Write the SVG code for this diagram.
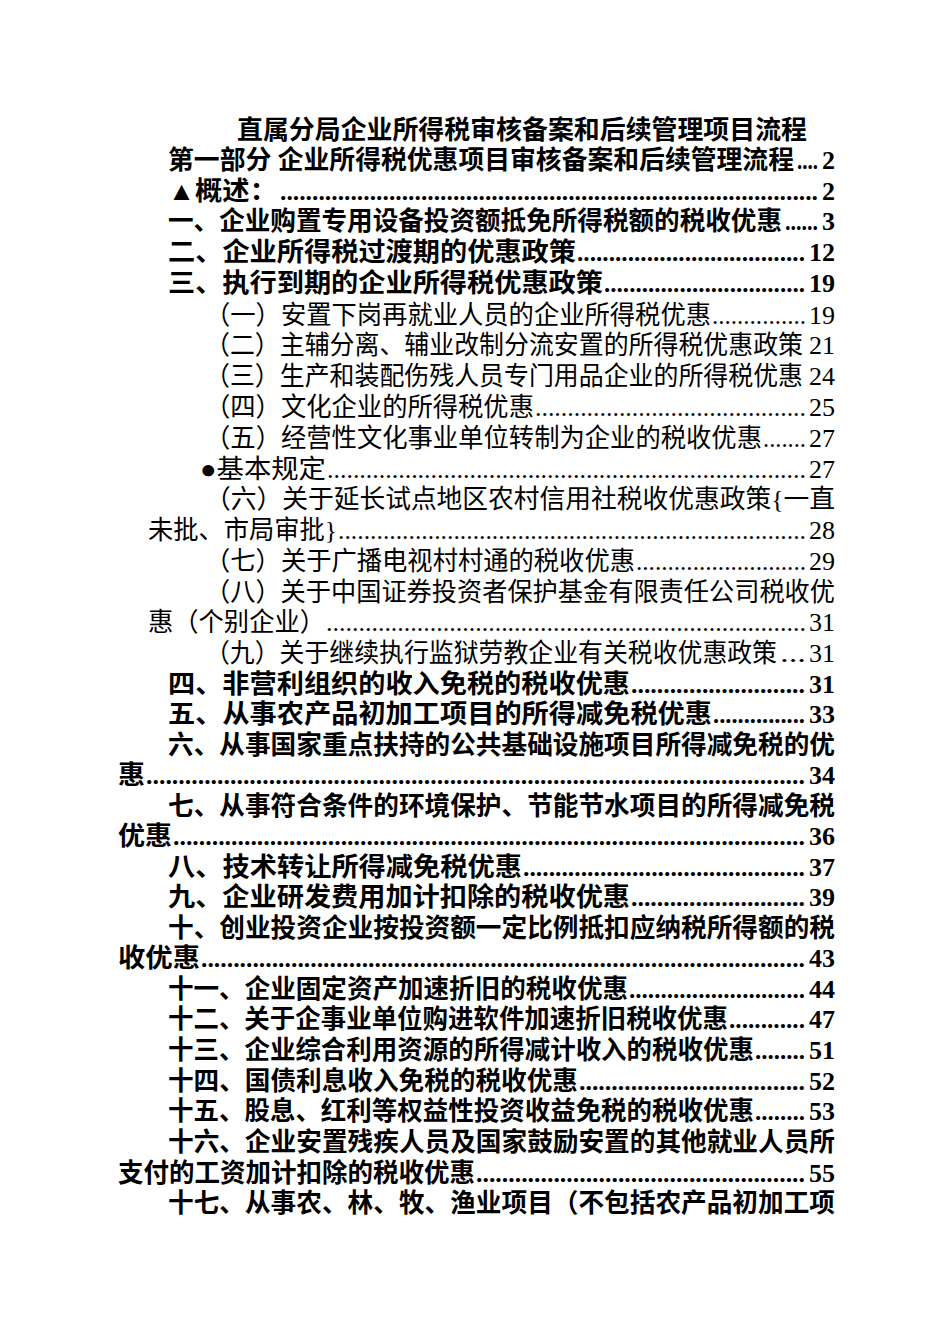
<svg xmlns="http://www.w3.org/2000/svg" width="950" height="1344" viewBox="0 0 950 1344">
<style>
text{font-family:"Liberation Serif","Noto Sans CJK SC",serif;font-size:26px;fill:#000}
.b{font-weight:bold}
.n{font-weight:normal}
.r{text-anchor:end}
</style>
<rect width="950" height="1344" fill="#fff"/>
<text class="b" x="237" y="139" textLength="570" lengthAdjust="spacingAndGlyphs">直属分局企业所得税审核备案和后续管理项目流程</text>
<g class="b">
<text x="168" y="169" textLength="626" lengthAdjust="spacingAndGlyphs">第一部分  企业所得税优惠项目审核备案和后续管理流程</text>
<text x="797" y="169" textLength="21" lengthAdjust="spacingAndGlyphs">....</text><text class="r" x="835" y="169">2</text>
<text x="168" y="200" textLength="109" lengthAdjust="spacingAndGlyphs">▲概述：</text>
<text x="280" y="200" textLength="538" lengthAdjust="spacingAndGlyphs">....................................................................................</text><text class="r" x="835" y="200">2</text>
<text x="168" y="230" textLength="614" lengthAdjust="spacingAndGlyphs">一、企业购置专用设备投资额抵免所得税额的税收优惠</text>
<text x="785" y="230" textLength="33" lengthAdjust="spacingAndGlyphs">......</text><text class="r" x="835" y="230">3</text>
<text x="168" y="261" textLength="408" lengthAdjust="spacingAndGlyphs">二、企业所得税过渡期的优惠政策</text>
<text x="577" y="261" textLength="228" lengthAdjust="spacingAndGlyphs">....................................</text><text class="r" x="835" y="261">12</text>
<text x="168" y="292" textLength="435" lengthAdjust="spacingAndGlyphs">三、执行到期的企业所得税优惠政策</text>
<text x="604" y="292" textLength="201" lengthAdjust="spacingAndGlyphs">................................</text><text class="r" x="835" y="292">19</text>
</g>
<g class="n">
<text x="205" y="324" textLength="506" lengthAdjust="spacingAndGlyphs">（一）安置下岗再就业人员的企业所得税优惠</text>
<text x="712" y="324" textLength="94" lengthAdjust="spacingAndGlyphs">...............</text><text class="r" x="835" y="324">19</text>
<text x="205" y="354" textLength="598" lengthAdjust="spacingAndGlyphs">（二）主辅分离、辅业改制分流安置的所得税优惠政策</text><text class="r" x="835" y="354">21</text>
<text x="205" y="385" textLength="598" lengthAdjust="spacingAndGlyphs">（三）生产和装配伤残人员专门用品企业的所得税优惠</text><text class="r" x="835" y="385">24</text>
<text x="205" y="416" textLength="329" lengthAdjust="spacingAndGlyphs">（四）文化企业的所得税优惠</text>
<text x="535" y="416" textLength="271" lengthAdjust="spacingAndGlyphs">..........................................</text><text class="r" x="835" y="416">25</text>
<text x="205" y="447" textLength="557" lengthAdjust="spacingAndGlyphs">（五）经营性文化事业单位转制为企业的税收优惠</text>
<text x="763" y="447" textLength="43" lengthAdjust="spacingAndGlyphs">.......</text><text class="r" x="835" y="447">27</text>
<text x="200" y="478" textLength="126" lengthAdjust="spacingAndGlyphs">●基本规定</text>
<text x="327" y="478" textLength="479" lengthAdjust="spacingAndGlyphs">..........................................................................</text><text class="r" x="835" y="478">27</text>
<text x="205" y="508" textLength="630" lengthAdjust="spacingAndGlyphs">（六）关于延长试点地区农村信用社税收优惠政策{一直</text>
<text x="148" y="539" textLength="189" lengthAdjust="spacingAndGlyphs">未批、市局审批}</text>
<text x="338" y="539" textLength="468" lengthAdjust="spacingAndGlyphs">.........................................................................</text><text class="r" x="835" y="539">28</text>
<text x="205" y="570" textLength="430" lengthAdjust="spacingAndGlyphs">（七）关于广播电视村村通的税收优惠</text>
<text x="636" y="570" textLength="170" lengthAdjust="spacingAndGlyphs">...........................</text><text class="r" x="835" y="570">29</text>
<text x="205" y="601" textLength="630" lengthAdjust="spacingAndGlyphs">（八）关于中国证券投资者保护基金有限责任公司税收优</text>
<text x="148" y="631" textLength="177" lengthAdjust="spacingAndGlyphs">惠（个别企业）</text>
<text x="326" y="631" textLength="480" lengthAdjust="spacingAndGlyphs">..........................................................................</text><text class="r" x="835" y="631">31</text>
<text x="205" y="662" textLength="572" lengthAdjust="spacingAndGlyphs">（九）关于继续执行监狱劳教企业有关税收优惠政策</text>
<text x="780" y="662" textLength="26" lengthAdjust="spacingAndGlyphs">...</text><text class="r" x="835" y="662">31</text>
</g>
<g class="b">
<text x="168" y="693" textLength="462" lengthAdjust="spacingAndGlyphs">四、非营利组织的收入免税的税收优惠</text>
<text x="631" y="693" textLength="174" lengthAdjust="spacingAndGlyphs">...........................</text><text class="r" x="835" y="693">31</text>
<text x="168" y="723" textLength="544" lengthAdjust="spacingAndGlyphs">五、从事农产品初加工项目的所得减免税优惠</text>
<text x="713" y="723" textLength="92" lengthAdjust="spacingAndGlyphs">...............</text><text class="r" x="835" y="723">33</text>
<text x="168" y="754" textLength="667" lengthAdjust="spacingAndGlyphs">六、从事国家重点扶持的公共基础设施项目所得减免税的优</text>
<text x="118" y="784" textLength="27" lengthAdjust="spacingAndGlyphs">惠</text>
<text x="146" y="784" textLength="659" lengthAdjust="spacingAndGlyphs">......................................................................................................</text><text class="r" x="835" y="784">34</text>
<text x="168" y="815" textLength="667" lengthAdjust="spacingAndGlyphs">七、从事符合条件的环境保护、节能节水项目的所得减免税</text>
<text x="118" y="845" textLength="54" lengthAdjust="spacingAndGlyphs">优惠</text>
<text x="173" y="845" textLength="632" lengthAdjust="spacingAndGlyphs">..................................................................................................</text><text class="r" x="835" y="845">36</text>
<text x="168" y="876" textLength="354" lengthAdjust="spacingAndGlyphs">八、技术转让所得减免税优惠</text>
<text x="523" y="876" textLength="282" lengthAdjust="spacingAndGlyphs">............................................</text><text class="r" x="835" y="876">37</text>
<text x="168" y="906" textLength="462" lengthAdjust="spacingAndGlyphs">九、企业研发费用加计扣除的税收优惠</text>
<text x="631" y="906" textLength="174" lengthAdjust="spacingAndGlyphs">...........................</text><text class="r" x="835" y="906">39</text>
<text x="168" y="937" textLength="667" lengthAdjust="spacingAndGlyphs">十、创业投资企业按投资额一定比例抵扣应纳税所得额的税</text>
<text x="118" y="967" textLength="82" lengthAdjust="spacingAndGlyphs">收优惠</text>
<text x="201" y="967" textLength="604" lengthAdjust="spacingAndGlyphs">..............................................................................................</text><text class="r" x="835" y="967">43</text>
<text x="168" y="998" textLength="460" lengthAdjust="spacingAndGlyphs">十一、企业固定资产加速折旧的税收优惠</text>
<text x="629" y="998" textLength="176" lengthAdjust="spacingAndGlyphs">............................</text><text class="r" x="835" y="998">44</text>
<text x="168" y="1028" textLength="560" lengthAdjust="spacingAndGlyphs">十二、关于企事业单位购进软件加速折旧税收优惠</text>
<text x="729" y="1028" textLength="76" lengthAdjust="spacingAndGlyphs">............</text><text class="r" x="835" y="1028">47</text>
<text x="168" y="1059" textLength="586" lengthAdjust="spacingAndGlyphs">十三、企业综合利用资源的所得减计收入的税收优惠</text>
<text x="755" y="1059" textLength="50" lengthAdjust="spacingAndGlyphs">........</text><text class="r" x="835" y="1059">51</text>
<text x="168" y="1090" textLength="410" lengthAdjust="spacingAndGlyphs">十四、国债利息收入免税的税收优惠</text>
<text x="579" y="1090" textLength="226" lengthAdjust="spacingAndGlyphs">...................................</text><text class="r" x="835" y="1090">52</text>
<text x="168" y="1120" textLength="586" lengthAdjust="spacingAndGlyphs">十五、股息、红利等权益性投资收益免税的税收优惠</text>
<text x="755" y="1120" textLength="50" lengthAdjust="spacingAndGlyphs">........</text><text class="r" x="835" y="1120">53</text>
<text x="168" y="1151" textLength="667" lengthAdjust="spacingAndGlyphs">十六、企业安置残疾人员及国家鼓励安置的其他就业人员所</text>
<text x="118" y="1182" textLength="357" lengthAdjust="spacingAndGlyphs">支付的工资加计扣除的税收优惠</text>
<text x="476" y="1182" textLength="329" lengthAdjust="spacingAndGlyphs">...................................................</text><text class="r" x="835" y="1182">55</text>
<text x="168" y="1212" textLength="667" lengthAdjust="spacingAndGlyphs">十七、从事农、林、牧、渔业项目（不包括农产品初加工项</text>
</g>
</svg>
